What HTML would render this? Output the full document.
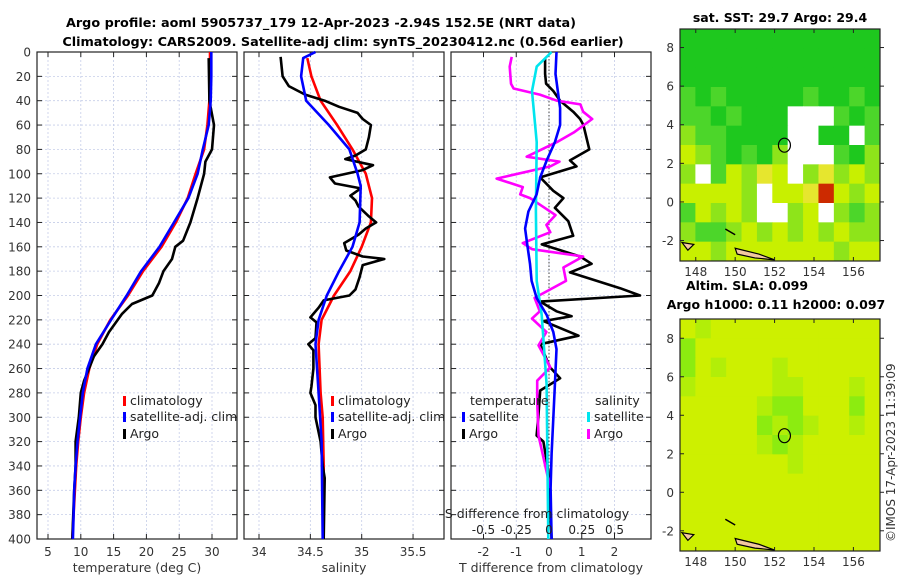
<!DOCTYPE html>
<html><head><meta charset="utf-8"><style>
html,body{margin:0;padding:0;background:#fff;}
svg{display:block;font-family:"DejaVu Sans","Liberation Sans",sans-serif;}
</style></head><body>
<svg id="fig" width="900" height="580" viewBox="0 0 900 580">
<text x="321" y="27" text-anchor="middle" font-weight="bold" font-size="12.8">Argo profile: aoml 5905737_179 12-Apr-2023 -2.94S 152.5E (NRT data)</text>
<text x="343" y="46" text-anchor="middle" font-weight="bold" font-size="12.8">Climatology: CARS2009. Satellite-adj clim: synTS_20230412.nc (0.56d earlier)</text>
<text x="780" y="22" text-anchor="middle" font-weight="bold" font-size="12.5">sat. SST: 29.7 Argo: 29.4</text>
<text x="747" y="290" text-anchor="middle" font-weight="bold" font-size="12.5">Altim. SLA: 0.099</text>
<text x="776" y="309" text-anchor="middle" font-weight="bold" font-size="12.5">Argo h1000: 0.11 h2000: 0.097</text>
<text transform="translate(895,542) rotate(-90)" font-size="12" fill="#333">©IMOS 17-Apr-2023 11:39:09</text>
</svg>
<script>
// ---- data ----
const depthTicks=[0,20,40,60,80,100,120,140,160,180,200,220,240,260,280,300,320,340,360,380,400];
const climDepth=[0,20,40,60,80,100,120,140,160,180,200,220,240,260,280,300,320,340,360,380,400];
const climT=[29.7,29.7,29.6,29.3,28.8,27.5,26.3,24.5,22.3,19.5,17.2,14.5,12.5,11.3,10.5,10.0,9.6,9.3,9.1,8.9,8.7];
const satT=[29.9,29.9,29.8,29.5,28.6,27.8,26.4,24.2,22.0,19.2,17.0,14.6,12.3,11.0,10.3,9.9,9.5,9.2,9.0,8.9,8.8];
const argoTDepth=[5,40,60,80,90,100,120,140,155,160,170,180,190,200,207,215,230,240,250,270,280,300,320,340,360,400];
const argoT=[29.5,29.6,30.3,30.0,29.0,28.8,27.8,26.7,25.6,24.4,23.9,22.6,21.9,20.9,17.8,16.3,14.3,13.3,12.0,10.5,10.0,9.7,9.2,9.2,9.0,8.7];
const climSDepth=[5,20,40,60,80,100,120,140,160,180,200,220,240,280,300,340,400];
const climS=[34.47,34.51,34.60,34.76,34.91,35.04,35.10,35.09,35.00,34.89,34.73,34.61,34.58,34.60,34.62,34.63,34.63];
const satSDepth=[0,5,20,40,60,80,100,110,140,160,180,200,220,240,280,320,400];
const satS=[34.55,34.43,34.41,34.46,34.68,34.88,34.96,34.99,34.98,34.91,34.78,34.66,34.58,34.55,34.58,34.61,34.62];
const argoSDepth=[4,20,28,35,40,45,50,55,60,70,80,85,88,93,97,103,108,112,118,122,127,135,140,145,150,157,163,168,170,175,185,195,200,204,210,218,222,235,240,245,260,275,280,290,300,320,340,350,400];
const argoS=[34.21,34.23,34.29,34.45,34.64,34.78,34.96,35.01,35.09,35.07,35.04,34.94,34.84,35.11,35.01,34.69,34.74,34.99,34.89,34.94,34.97,35.07,35.14,35.04,34.97,34.83,34.85,35.01,35.22,35.01,34.98,34.94,34.88,34.63,34.58,34.50,34.56,34.55,34.48,34.53,34.53,34.51,34.50,34.55,34.55,34.60,34.62,34.64,34.63];
const dSatTDepth=[0,18,46,60,74,89,103,117,131,145,159,174,188,202,216,230,244,273,301,330,358,400];
const dSatT=[0.23,0.2,0.34,0.34,0.18,-0.07,-0.27,-0.38,-0.63,-0.73,-0.66,-0.58,-0.53,-0.38,-0.07,0.13,0.23,0.18,0.13,0.08,0.05,0.08];
const dArgoTDepth=[5,18,26,32,40,49,55,60,80,89,94,103,114,120,128,139,151,158,168,174,181,194,200,205,213,217,221,233,240,259,268,278,301,315,320,344,400];
const dArgoT=[-0.12,-0.12,-0.09,0.13,0.34,0.74,0.95,1.05,1.23,0.64,0.84,-0.27,0.13,0.44,0.18,0.59,0.74,-0.22,0.95,1.3,0.64,2.17,2.78,-0.27,0.23,0.69,-0.17,0.9,-0.27,0.03,0.34,-0.27,-0.33,-0.38,-0.17,-0.02,0.08];
const dSatSDepth=[0,12,32,74,131,188,216,273,400];
const dSatS=[0.02,-0.094,-0.13,-0.094,-0.1,-0.094,-0.056,-0.018,-0.005];
const dArgoSDepth=[4,12,26,30,35,40,43,49,55,66,74,86,90,94,104,111,117,120,134,142,148,157,162,168,177,188,202,213,219,230,241,259,270,287,315,344,358];
const dArgoS=[-0.285,-0.3,-0.29,-0.27,-0.07,0.06,0.24,0.26,0.33,0.19,0.06,-0.17,0.08,0.01,-0.4,-0.2,-0.22,-0.145,0.05,-0.02,0.01,-0.2,-0.13,0.26,0.11,0.13,-0.11,-0.07,-0.13,-0.02,-0.08,0.01,-0.09,-0.09,-0.08,-0.02,0.01];
const tTicks=[5,10,15,20,25,30];
const sTicks=[34,34.5,35,35.5];
const dTTicks=[-2,-1,0,1,2];
const dSTickLabels=["-0.5","-0.25","0","0.25","0.5"];
const dSTicks=[-0.5,-0.25,0,0.25,0.5];
const lonTicks=[148,150,152,154,156];
const latTicks=[-2,0,2,4,6,8];
// SST map rows (lat 9 -> -3), 13 columns lon 147.2 -> 157.35
const sstRows=["GGGGGGGGGGGGG","GGGGGGGGGGGGG","GGGGGGGGGGGGG","gGgGGGGGgGGgG","ggGgGGGwwwgGg","lggGGGGwwGGwg","ylgGgGlwwwgGl","lwgylYywlYlyl","yyyylwyyYryly","gylylwwlywlgl","lgglylylylyll","yylyyyyyyylyy"];
const slaRows=["ylyyyyyyyyyyy","gyyyyyyyyyyyy","gylyyylyyyyyy","lyyyyyllyyyly","yyyyylggyyygy","yyyyyglglyyly","yyyyylglyyyyy","yyyyyyylyyyyy","yyyyyyyyyyyyy","yyyyyyyyyyyyy","yyyyyyyyyyyyy","yyyyyyyyyyyyy"];
// ---- drawing ----
const NS='http://www.w3.org/2000/svg';
const svg=document.getElementById('fig');
function el(t,a,p){const e=document.createElementNS(NS,t);for(const k in a)e.setAttribute(k,a[k]);(p||svg).appendChild(e);return e;}
const Y0=52,Y1=539;
function yD(d){return Y0+(d/400)*(Y1-Y0);}
const panels=[{x0:37,x1:237},{x0:244,x1:444},{x0:451,x1:651}];
function scaleT(v){return 48+(v-5)*6.56;}
function scaleS(v){return 259+(v-34)*102.7;}
function scaleDT(v){return 549+v*32.75;}
function scaleDS(v){return 549+v*4*32.75;}
function line(xs,ds,sx,color,name,w){
  let p='';for(let i=0;i<xs.length;i++){p+=(i?'L':'M')+sx(xs[i]).toFixed(1)+','+yD(ds[i]).toFixed(1);}
  const e=el('path',{d:p,fill:'none',stroke:color,'stroke-width':w||2.6,'stroke-linejoin':'round'});
  
  
}
function frame(pi,xt,sx,labels,title){
  const P=panels[pi];
  const g=el('g',{});
  
  
  depthTicks.forEach(d=>{el('line',{x1:P.x0,x2:P.x1,y1:yD(d),y2:yD(d),stroke:'#c5cde8','stroke-width':0.8,'stroke-dasharray':'2,2'},g);
    el('line',{x1:P.x0,x2:P.x0+5,y1:yD(d),y2:yD(d),stroke:'#222'},g);el('line',{x1:P.x1-5,x2:P.x1,y1:yD(d),y2:yD(d),stroke:'#222'},g);});
  xt.forEach((v,i)=>{const x=sx(v);el('line',{x1:x,x2:x,y1:Y0,y2:Y1,stroke:'#c5cde8','stroke-width':0.8,'stroke-dasharray':'2,2'},g);
    el('line',{x1:x,x2:x,y1:Y0,y2:Y0+5,stroke:'#222'},g);el('line',{x1:x,x2:x,y1:Y1-5,y2:Y1,stroke:'#222'},g);
    const t=el('text',{x:x,y:556,'text-anchor':'middle','font-size':12,fill:'#333'},g);t.textContent=labels[i];
    
    });
  el('rect',{x:P.x0,y:Y0,width:P.x1-P.x0,height:Y1-Y0,fill:'none',stroke:'#222','stroke-width':1.2},g);
  const t=el('text',{x:(P.x0+P.x1)/2,y:572,'text-anchor':'middle','font-size':12.5,fill:'#333'},g);t.textContent=title;
  
  
}
depthTicks.forEach(d=>{const t=el('text',{x:31,y:yD(d)+4.5,'text-anchor':'end','font-size':12,fill:'#333'});t.textContent=d;
  
  });
frame(0,tTicks,scaleT,tTicks.map(String),'temperature (deg C)');
frame(1,sTicks,scaleS,sTicks.map(String),'salinity');
frame(2,dTTicks,scaleDT,dTTicks.map(String),'T difference from climatology');
const zl=el('line',{x1:549,x2:549,y1:Y0,y2:Y1,stroke:'#444','stroke-width':1,'stroke-dasharray':'1.5,2'});


line(climT,climDepth,scaleT,'#ff0000','temp-climatology-line');
line(argoT,argoTDepth,scaleT,'#000','temp-argo-line');
line(satT,climDepth,scaleT,'#0000ff','temp-satellite-line');
line(climS,climSDepth,scaleS,'#ff0000','sal-climatology-line');
line(argoS,argoSDepth,scaleS,'#000','sal-argo-line');
line(satS,satSDepth,scaleS,'#0000ff','sal-satellite-line');
line(dArgoT,dArgoTDepth,scaleDT,'#000','dT-argo-line');
line(dArgoS,dArgoSDepth,scaleDS,'#ff00ff','dS-argo-line');
line(dSatS,dSatSDepth,scaleDS,'#00e5ee','dS-satellite-line');
line(dSatT,dSatTDepth,scaleDT,'#0000ff','dT-satellite-line');
let st=el('text',{x:537,y:518,'text-anchor':'middle','font-size':12.5,fill:'#222'});st.textContent='S difference from climatology';


dSTicks.forEach((v,i)=>{const t=el('text',{x:scaleDS(v),y:534,'text-anchor':'middle','font-size':12,fill:'#222'});t.textContent=dSTickLabels[i];
  
  });
function legend(x,y,color,label,name){
  el('rect',{x:x,y:y-9,width:3,height:10,fill:color});
  const t=el('text',{x:x+7,y:y,'font-size':12.5,fill:'#222'});t.textContent=label;
  
  
}
legend(123,405,'#ff0000','climatology','legend-climatology');
legend(123,421,'#0000ff','satellite-adj. clim','legend-satellite-adj');
legend(123,438,'#000','Argo','legend-argo');
legend(331,405,'#ff0000','climatology','legend2-climatology');
legend(331,421,'#0000ff','satellite-adj. clim','legend2-satellite-adj');
legend(331,438,'#000','Argo','legend2-argo');
let lt=el('text',{x:470,y:405,'font-size':12.5,fill:'#222'});lt.textContent='temperature';


let ls=el('text',{x:595,y:405,'font-size':12.5,fill:'#222'});ls.textContent='salinity';


legend(462,421,'#0000ff','satellite','legend-t-satellite');
legend(462,438,'#000','Argo','legend-t-argo');
legend(587,421,'#00e5ee','satellite','legend-s-satellite');
legend(587,438,'#ff00ff','Argo','legend-s-argo');
const colors={G:'#1ec81e',g:'#4cd62a',l:'#8ee41a',y:'#c8f000',Y:'#e6e62e',r:'#cc2a00',w:'#ffffff'};
const slaColors={y:'#cdf000',l:'#b2ee08',g:'#8cec10'};
const LON0=147.2,LON1=157.35;
function mapPanel(top,bot,latTop,latBot,rows,cmap,name){
  const L=680,R=880;
  const g=el('g',{});
  
  
  const nr=rows.length,nc=rows[0].length;
  const cw=(R-L)/nc,ch=(bot-top)/nr;
  rows.forEach((r,i)=>{for(let j=0;j<nc;j++){el('rect',{x:L+j*cw,y:top+i*ch,width:cw+0.5,height:ch+0.5,fill:cmap[r[j]]},g);}});
  const lx=v=>L+(v-LON0)/(LON1-LON0)*(R-L);
  const ly=v=>top+(latTop-v)/(latTop-latBot)*(bot-top);
  el('path',{d:`M${lx(150)},${ly(-2.4)} L${lx(151.2)},${ly(-2.7)} L${lx(152)},${ly(-3.0)} L${lx(151)},${ly(-2.9)} L${lx(150.1)},${ly(-2.7)}Z`,fill:'#f2c8a0',stroke:'#000','stroke-width':1.2},g);
  el('path',{d:`M${lx(147.3)},${ly(-2.1)} L${lx(147.9)},${ly(-2.2)} L${lx(147.6)},${ly(-2.5)}Z`,fill:'#f2c8a0',stroke:'#000','stroke-width':1.2},g);
  el('path',{d:`M${lx(149.5)},${ly(-1.4)} L${lx(150)},${ly(-1.7)}`,stroke:'#000','stroke-width':1.5},g);
  el('ellipse',{cx:lx(152.5),cy:ly(2.94),rx:6,ry:7,fill:'none',stroke:'#000','stroke-width':1.2},g);
  el('rect',{x:L,y:top,width:R-L,height:bot-top,fill:'none',stroke:'#222','stroke-width':1.2},g);
  lonTicks.forEach(v=>{el('line',{x1:lx(v),x2:lx(v),y1:bot,y2:bot-4,stroke:'#222'},g);el('line',{x1:lx(v),x2:lx(v),y1:top,y2:top+4,stroke:'#222'},g);
    const t=el('text',{x:lx(v),y:bot+15,'text-anchor':'middle','font-size':12,fill:'#333'},g);t.textContent=v;
    
    });
  latTicks.forEach(v=>{el('line',{x1:L,x2:L+4,y1:ly(v),y2:ly(v),stroke:'#222'},g);el('line',{x1:R,x2:R+4,y1:ly(v),y2:ly(v),stroke:'#222'},g);
    const t=el('text',{x:L-6,y:ly(v)+4.5,'text-anchor':'end','font-size':12,fill:'#333'},g);t.textContent=v;
    
    });
}
mapPanel(29,261,8.96,-3.06,sstRows,colors,'sst-map');
mapPanel(319,551,9.0,-3.05,slaRows,slaColors,'sla-map');
</script>
</body></html>
